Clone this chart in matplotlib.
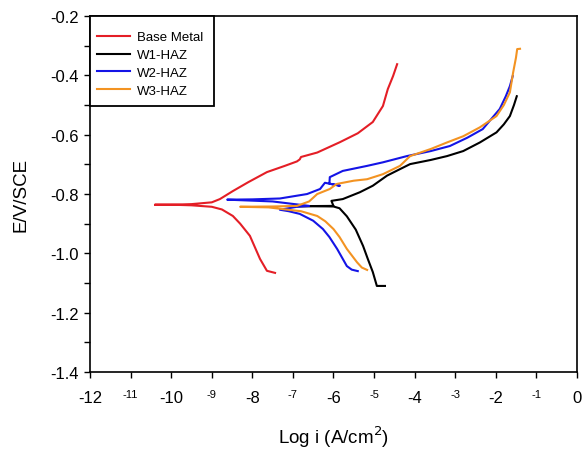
import matplotlib
matplotlib.use("Agg")
import matplotlib.pyplot as plt
from matplotlib.ticker import MultipleLocator, FormatStrFormatter
from matplotlib.patches import Rectangle

plt.rcParams['font.family'] = ['Liberation Sans', 'DejaVu Sans']

# ---- data (log i, E) ----
base_x = [-7.44, -7.64, -7.81, -8.06, -8.30, -8.48, -8.75, -9.0, -9.5, -10.0, -10.4,
          -10.0, -9.5, -9.0, -8.8, -8.48, -8.1, -7.64, -7.2, -6.9, -6.83, -6.8, -6.4,
          -5.84, -5.4, -5.03, -4.78, -4.66, -4.53, -4.43]
base_y = [-1.066, -1.059, -1.019, -0.941, -0.900, -0.874, -0.852, -0.843, -0.838, -0.836, -0.836,
          -0.836, -0.834, -0.828, -0.817, -0.790, -0.760, -0.726, -0.705, -0.690, -0.683, -0.675, -0.660,
          -0.625, -0.595, -0.557, -0.503, -0.446, -0.402, -0.362]

w1_x = [-4.73, -4.93, -5.03, -5.15, -5.27, -5.45, -5.67, -5.85, -6.0, -6.5, -6.9,
        -6.0, -6.05, -5.77, -5.35, -5.03, -4.68, -4.36, -4.11, -3.6, -3.2, -2.8,
        -2.39, -1.98, -1.8, -1.65, -1.55, -1.48]
w1_y = [-1.110, -1.110, -1.063, -1.020, -0.975, -0.920, -0.875, -0.848, -0.842, -0.841, -0.841,
        -0.840, -0.823, -0.817, -0.794, -0.772, -0.738, -0.716, -0.699, -0.685, -0.672, -0.655,
        -0.626, -0.592, -0.565, -0.537, -0.500, -0.470]

w2_x = [-5.40, -5.55, -5.67, -5.91, -6.10, -6.26, -6.50, -6.83, -7.10, -7.32, -6.9, -6.6,
        -7.5, -8.62, -8.0, -7.32, -6.65, -6.33, -6.21, -5.84, -6.1, -6.09, -5.77, -5.17,
        -4.78, -4.19, -3.6, -3.13, -2.7, -2.32, -1.9, -1.75, -1.65, -1.58]
w2_y = [-1.060, -1.055, -1.043, -0.985, -0.945, -0.918, -0.890, -0.867, -0.858, -0.853, -0.843, -0.840,
        -0.825, -0.819, -0.818, -0.815, -0.800, -0.783, -0.762, -0.772, -0.765, -0.743, -0.722, -0.705,
        -0.693, -0.672, -0.655, -0.638, -0.610, -0.581, -0.513, -0.470, -0.436, -0.402]

w3_x = [-5.17, -5.30, -5.42, -5.67, -5.85, -6.0, -6.2, -6.4, -6.8, -7.24, -7.6, -8.3,
        -7.5, -6.9, -6.6, -6.4, -6.09, -5.92, -5.5, -5.17, -4.78, -4.36, -4.11, -3.6,
        -3.2, -2.8, -2.39, -1.98, -1.8, -1.65, -1.57, -1.5, -1.47, -1.4]
w3_y = [-1.056, -1.048, -1.030, -0.985, -0.945, -0.918, -0.892, -0.874, -0.858, -0.851, -0.845, -0.843,
        -0.842, -0.840, -0.825, -0.800, -0.783, -0.766, -0.755, -0.750, -0.733, -0.705, -0.672, -0.648,
        -0.626, -0.605, -0.575, -0.537, -0.500, -0.457, -0.390, -0.340, -0.311, -0.310]

labels = ["Base Metal", "W1-HAZ", "W2-HAZ", "W3-HAZ"]
colors = ["#e41e26", "#000000", "#1414e6", "#f39322"]

x_major = list(range(-12, 1))
y_major = [-1.4, -1.2, -1.0, -0.8, -0.6, -0.4, -0.2]

fig = plt.figure(figsize=(5.85, 4.52), dpi=100)
ax = fig.add_axes([0.154, 0.175, 0.832, 0.787])

series = [(base_x, base_y), (w1_x, w1_y), (w2_x, w2_y), (w3_x, w3_y)]
for (xs, ys), lab, c in zip(series, labels, colors):
    ax.plot(xs, ys, color=c, lw=1.5, label=lab)

ax.set_xlim(-12, 0)
ax.set_ylim(-1.4, -0.2)

ax.set_xticks(x_major)
ax.set_xticklabels([str(v) if v % 2 == 0 else "" for v in x_major])
for v in x_major:
    if v % 2 != 0:
        ax.annotate(str(v), xy=(v, 0), xycoords=('data', 'axes fraction'),
                    xytext=(0, -12.5), textcoords='offset points',
                    ha='center', va='top', fontsize=8)

ax.set_yticks(y_major)
ax.yaxis.set_minor_locator(MultipleLocator(0.1))
ax.yaxis.set_major_formatter(FormatStrFormatter('%.1f'))

ax.tick_params(axis='both', which='major', direction='out', length=4, width=1,
               labelsize=12)
ax.tick_params(axis='x', pad=9)
ax.tick_params(axis='y', pad=4)
ax.tick_params(axis='y', which='minor', direction='out', length=4, width=1)

for s in ax.spines.values():
    s.set_linewidth(1.2)

ax.set_ylabel("E/V/SCE", fontsize=13.5, labelpad=15)
ax.set_xlabel("Log i (A/cm$^2$)", fontsize=13.5, labelpad=13)

# legend box (frame drawn separately to match proportions)
frame = Rectangle((0, 0.7472), 0.2546, 0.2528, transform=ax.transAxes,
                  facecolor='white', edgecolor='black', linewidth=1.3,
                  clip_on=False, zorder=4.5)
ax.add_patch(frame)
leg = ax.legend(loc='upper left', bbox_to_anchor=(0.0144, 0.9576), borderaxespad=0,
                frameon=False, fontsize=9.5, borderpad=0,
                handlelength=2.5, handletextpad=0.5, labelspacing=0.42)
leg.set_zorder(5)

fig.savefig("out.png", dpi=100)
